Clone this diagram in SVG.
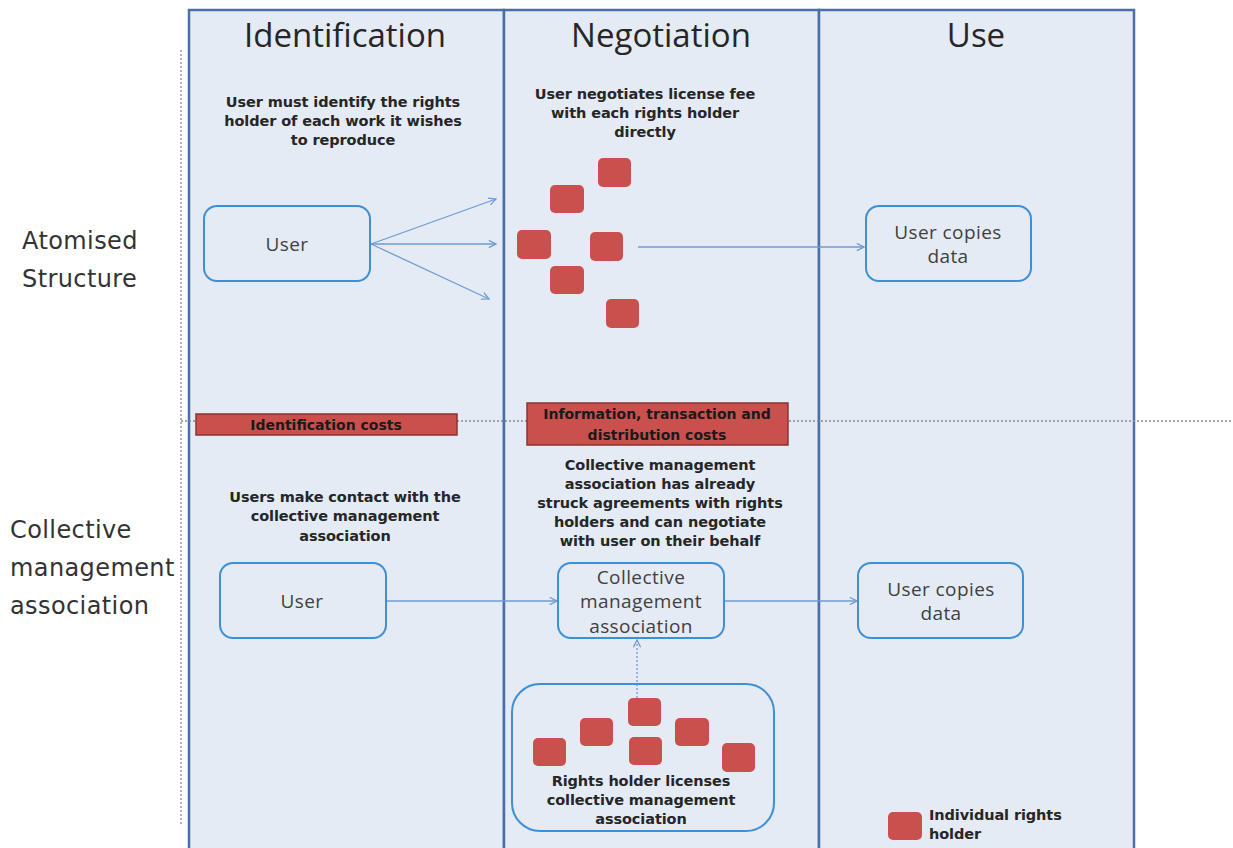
<svg xmlns="http://www.w3.org/2000/svg" width="1233" height="848" viewBox="0 0 1233 848">
<defs>
<style>
.col{fill:#e4ebf5;stroke:#4a6ea5;stroke-width:2.5}
.hdr{font-family:"Open Sans","Liberation Sans",sans-serif;font-size:33px;fill:#262626;text-anchor:middle}
.note{font-family:"DejaVu Sans",Verdana,sans-serif;font-weight:bold;font-size:14.5px;fill:#262626;text-anchor:middle;letter-spacing:-0.1px}
.row{font-family:"DejaVu Sans",Verdana,sans-serif;font-size:24px;fill:#333;letter-spacing:0.4px}
.box{fill:none;stroke:#3f8fd6;stroke-width:2}
.blab{font-family:"Open Sans","Liberation Sans",sans-serif;font-size:19px;fill:#404040;text-anchor:middle;letter-spacing:0.4px}
.sq{fill:#c9504d}
.cost{fill:#c9504d;stroke:#8a3532;stroke-width:1.5}
.clab{font-family:"DejaVu Sans",Verdana,sans-serif;font-weight:bold;font-size:14px;fill:#1a1a1a;text-anchor:middle;letter-spacing:0px}
.conn{fill:none;stroke:#6f9bd3;stroke-width:1.3}
.dots{fill:none;stroke:#8a8a8a;stroke-width:1.3;stroke-dasharray:2 2}
</style>
<marker id="arr" viewBox="0 0 10 10" refX="9" refY="5" markerWidth="9" markerHeight="9" markerUnits="userSpaceOnUse" orient="auto">
<path d="M1,1 L9,5 L1,9" fill="none" stroke="#6f9bd3" stroke-width="1.4"/>
</marker>
</defs>
<rect width="1233" height="848" fill="#ffffff"/>

<g id="lanes">
<rect class="col" x="189" y="10" width="315" height="845"/>
<rect class="col" x="504" y="10" width="315" height="845"/>
<rect class="col" x="819" y="10" width="315" height="845"/>
<text class="hdr" x="345" y="47">Identification</text>
<text class="hdr" x="661" y="47">Negotiation</text>
<text class="hdr" x="976" y="47">Use</text>
</g>

<g id="dividers">
<line class="dots" x1="181" y1="50" x2="181" y2="826"/>
<line class="dots" x1="181" y1="421" x2="1233" y2="421"/>
</g>

<g id="row-labels">
<text class="row" x="22" y="249">Atomised</text>
<text class="row" x="22" y="287">Structure</text>
<text class="row" x="10" y="538">Collective</text>
<text class="row" x="10" y="576">management</text>
<text class="row" x="10" y="614">association</text>
</g>

<g id="notes">
<text class="note" x="343" y="107">User must identify the rights</text>
<text class="note" x="343" y="126">holder of each work it wishes</text>
<text class="note" x="343" y="145">to reproduce</text>
<text class="note" x="645" y="99">User negotiates license fee</text>
<text class="note" x="645" y="118">with each rights holder</text>
<text class="note" x="645" y="137">directly</text>
<text class="note" x="345" y="502">Users make contact with the</text>
<text class="note" x="345" y="521">collective management</text>
<text class="note" x="345" y="541">association</text>
<text class="note" x="660" y="470">Collective management</text>
<text class="note" x="660" y="489">association has already</text>
<text class="note" x="660" y="508">struck agreements with rights</text>
<text class="note" x="660" y="527">holders and can negotiate</text>
<text class="note" x="660" y="546">with user on their behalf</text>
</g>

<g id="connectors">
<line class="conn" x1="371" y1="244" x2="496" y2="199" marker-end="url(#arr)"/>
<line class="conn" x1="371" y1="244" x2="496" y2="244" marker-end="url(#arr)"/>
<line class="conn" x1="371" y1="244" x2="489" y2="299" marker-end="url(#arr)"/>
<line class="conn" x1="638" y1="247" x2="864" y2="247" marker-end="url(#arr)"/>
<line class="conn" x1="387" y1="601" x2="557" y2="601" marker-end="url(#arr)"/>
<line class="conn" x1="725" y1="601" x2="857" y2="601" marker-end="url(#arr)"/>
<line class="conn" x1="637" y1="698" x2="637" y2="640" stroke-dasharray="2 2" marker-end="url(#arr)"/>
</g>

<g id="user-top">
<rect class="box" x="204" y="206" width="166" height="75" rx="13"/>
<text class="blab" x="287" y="251">User</text>
</g>

<g id="rights-holders-top">
<rect class="sq" x="598" y="158" width="33" height="29" rx="5"/>
<rect class="sq" x="550" y="185" width="34" height="28" rx="5"/>
<rect class="sq" x="517" y="230" width="34" height="29" rx="5"/>
<rect class="sq" x="590" y="232" width="33" height="29" rx="5"/>
<rect class="sq" x="550" y="266" width="34" height="28" rx="5"/>
<rect class="sq" x="606" y="299" width="33" height="29" rx="5"/>
</g>

<g id="copies-top">
<rect class="box" x="866" y="206" width="165" height="75" rx="13"/>
<text class="blab" x="948" y="239">User copies</text>
<text class="blab" x="948" y="263">data</text>
</g>

<g id="cost-identification">
<rect class="cost" x="196" y="414" width="261" height="21"/>
<text class="clab" x="326" y="430">Identification costs</text>
</g>

<g id="cost-information">
<rect class="cost" x="527" y="403" width="261" height="42"/>
<text class="clab" x="657" y="419">Information, transaction and</text>
<text class="clab" x="657" y="440">distribution costs</text>
</g>

<g id="user-bottom">
<rect class="box" x="220" y="563" width="166" height="75" rx="13"/>
<text class="blab" x="302" y="608">User</text>
</g>

<g id="cma">
<rect class="box" x="558" y="563" width="166" height="75" rx="13"/>
<text class="blab" x="641" y="584">Collective</text>
<text class="blab" x="641" y="608">management</text>
<text class="blab" x="641" y="633">association</text>
</g>

<g id="copies-bottom">
<rect class="box" x="858" y="563" width="165" height="75" rx="13"/>
<text class="blab" x="941" y="596">User copies</text>
<text class="blab" x="941" y="620">data</text>
</g>

<g id="rights-holders-group">
<rect class="box" x="512" y="684" width="262" height="147" rx="28"/>
<rect class="sq" x="533" y="738" width="33" height="28" rx="5"/>
<rect class="sq" x="580" y="718" width="33" height="28" rx="5"/>
<rect class="sq" x="628" y="698" width="33" height="28" rx="5"/>
<rect class="sq" x="629" y="737" width="33" height="28" rx="5"/>
<rect class="sq" x="675" y="718" width="34" height="28" rx="5"/>
<rect class="sq" x="722" y="743" width="33" height="29" rx="5"/>
<text class="note" x="641" y="786">Rights holder licenses</text>
<text class="note" x="641" y="805">collective management</text>
<text class="note" x="641" y="824">association</text>
</g>

<g id="legend">
<rect class="sq" x="888" y="812" width="34" height="28" rx="5"/>
<text class="note" x="929" y="820" style="text-anchor:start">Individual rights</text>
<text class="note" x="929" y="839" style="text-anchor:start">holder</text>
</g>
</svg>
